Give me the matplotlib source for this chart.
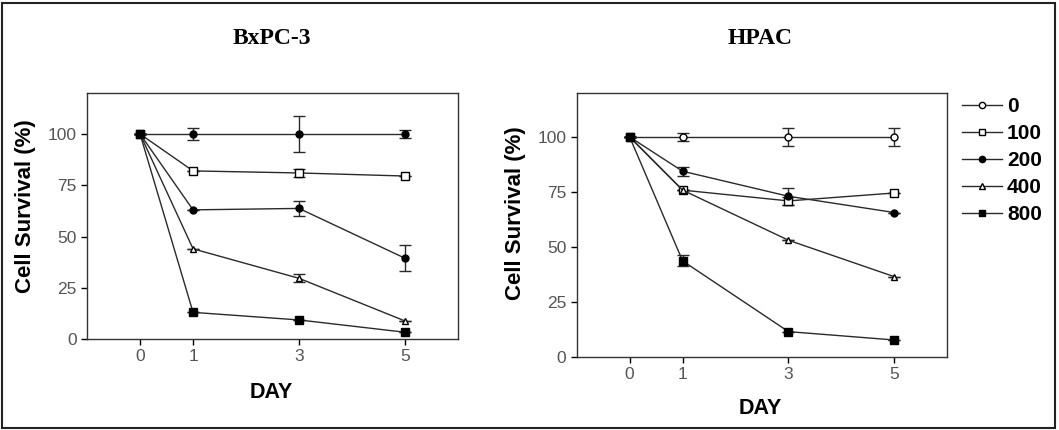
import numpy as np
import matplotlib
matplotlib.use('Agg')
import matplotlib.pyplot as plt
from matplotlib.patches import Rectangle
from matplotlib.lines import Line2D

plt.rcParams['font.family'] = ['Liberation Sans', 'DejaVu Sans']

days = [0, 1, 3, 5]
doses = ['0', '100', '200', '400', '800']
markers = ['o', 's', 'o', '^', 's']
faces = ['white', 'white', 'black', 'white', 'black']

# BxPC-3 cell survival (%)
bx_0 = [100, 100, 100, 100]
bx_100 = [100, 82, 81, 79.5]
bx_200 = [100, 63, 63.7, 39.4]
bx_400 = [100, 44, 29.6, 8.8]
bx_800 = [100, 13, 9.3, 3.3]
bx_0_err = [0, 3, 9, 2]
bx_100_err = [0, 0, 2, 0]
bx_200_err = [0, 0, 3.6, 6.3]
bx_400_err = [0, 0, 2, 0]
bx_800_err = [0, 0, 0, 0]

# HPAC cell survival (%)
hp_0 = [100, 100, 100, 100]
hp_100 = [100, 75.8, 70.9, 74.5]
hp_200 = [100, 84.4, 73, 65.6]
hp_400 = [100, 75.8, 53, 36.4]
hp_800 = [100, 43.6, 11.4, 7.6]
hp_0_err = [0, 2, 4.3, 4]
hp_100_err = [0, 0, 2, 0]
hp_200_err = [0, 2, 3.8, 0]
hp_400_err = [0, 0, 0, 0]
hp_800_err = [0, 2.5, 0, 0]

bx_series = [bx_0, bx_100, bx_200, bx_400, bx_800]
bx_errs = [bx_0_err, bx_100_err, bx_200_err, bx_400_err, bx_800_err]
hp_series = [hp_0, hp_100, hp_200, hp_400, hp_800]
hp_errs = [hp_0_err, hp_100_err, hp_200_err, hp_400_err, hp_800_err]

fig = plt.figure(figsize=(10.59, 4.30), dpi=100)
ax1 = fig.add_axes([0.0822, 0.2116, 0.3503, 0.5721])
ax2 = fig.add_axes([0.5446, 0.1705, 0.3499, 0.6132])


def draw_panel(ax, series, errs, left_faces):
    for i in range(len(series)):
        ax.errorbar(days, series[i], yerr=errs[i], color='#2a2a2a', lw=1.0,
                    marker=markers[i], mfc=left_faces[i], mec='black',
                    mew=1.0, ms=5.5 if markers[i] == 's' else 5,
                    capsize=4, elinewidth=1.0, capthick=1.0, zorder=3)
    ax.set_xlim(-1, 6)
    ax.set_ylim(0, 120)
    ax.set_xticks(days)
    ax.set_yticks([0, 25, 50, 75, 100])
    ax.tick_params(direction='out', length=4, width=1, colors='black',
                   labelcolor='#555555', labelsize=12.5)
    for s in ax.spines.values():
        s.set_linewidth(1.0)
        s.set_color('#333333')


# the BxPC-3 panel shows the top series with filled markers
draw_panel(ax1, bx_series, bx_errs, ['black'] + faces[1:])
draw_panel(ax2, hp_series, hp_errs, faces)

ax1.text(-0.167, 0.54, 'Cell Survival (%)', transform=ax1.transAxes,
         rotation=90, ha='center', va='center', fontsize=16, fontweight='bold')
ax2.text(-0.1665, 0.543, 'Cell Survival (%)', transform=ax2.transAxes,
         rotation=90, ha='center', va='center', fontsize=16, fontweight='bold')

fig.text(271 / 1059, 1 - 392 / 430, 'DAY', ha='center', va='center',
         fontsize=15.5, fontweight='bold')
fig.text(760 / 1059, 1 - 409 / 430, 'DAY', ha='center', va='center',
         fontsize=15.5, fontweight='bold')

fig.text(272 / 1059, 1 - 38 / 430, 'BxPC-3', ha='center', va='center',
         fontsize=17, fontweight='bold', family='Liberation Serif')
fig.text(760 / 1059, 1 - 38 / 430, 'HPAC', ha='center', va='center',
         fontsize=17, fontweight='bold', family='Liberation Serif')

handles = [Line2D([], [], color='#2a2a2a', lw=1.0, marker=markers[i],
                  mfc=faces[i], mec='black', mew=1.0, ms=4.5)
           for i in range(len(doses))]
leg = fig.legend(handles, doses, loc='upper left',
                 bbox_to_anchor=(958 / 1059, 1 - 93 / 430),
                 frameon=False, prop={'weight': 'bold', 'size': 15},
                 handlelength=1.9, handletextpad=0.25, labelspacing=0.38,
                 borderpad=0.2, borderaxespad=0)

# outer frame around the whole figure
fig.patches.append(Rectangle((2 / 1059, 2 / 430), 1053 / 1059, 425 / 430,
                             transform=fig.transFigure, fill=False,
                             lw=1.5, edgecolor='#222222'))

fig.savefig('out.png', dpi=100)
